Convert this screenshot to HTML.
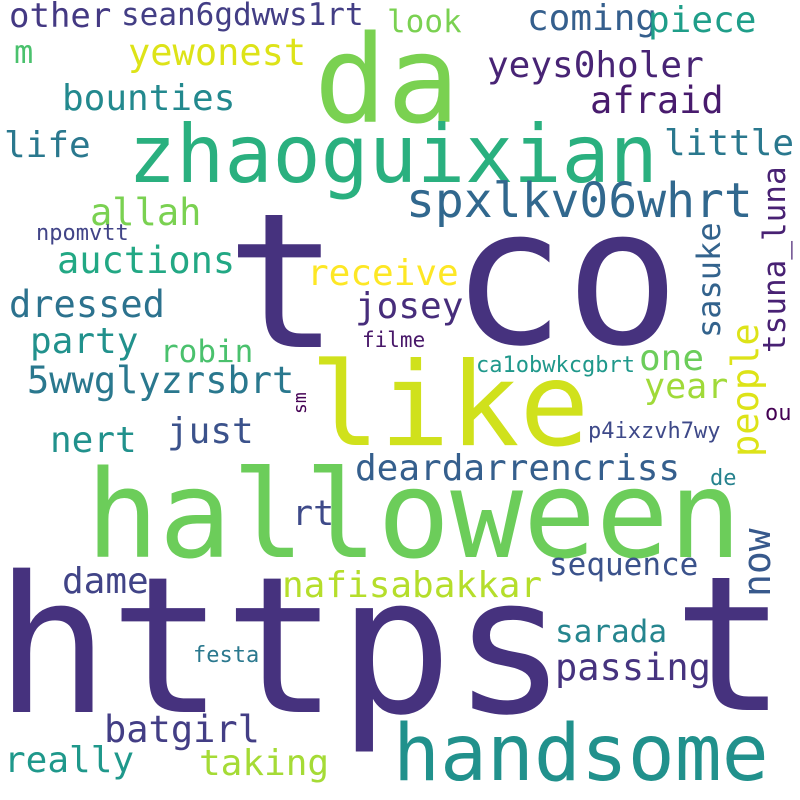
<!DOCTYPE html>
<html><head><meta charset="utf-8"><style>
html,body{margin:0;padding:0;background:#fff;}
svg{display:block;}
text{font-family:"DejaVu Sans Mono","Liberation Mono",monospace;}
</style></head><body>
<svg id="cloud" width="800" height="800" viewBox="0 0 800 800" xmlns="http://www.w3.org/2000/svg">
<rect width="800" height="800" fill="#ffffff"/>
</svg>
<script>
const words = ["https","t","co","t","da","zhaoguixian","like","halloween","handsome","spxlkv06whrt","other","sean6gdwws1rt","look","coming","piece","m","yewonest","yeys0holer","bounties","afraid","life","little","allah","npomvtt","auctions","receive","dressed","josey","party","robin","filme","5wwglyzrsbrt","sm","one","ca1obwkcgbrt","year","people","tsuna_luna","sasuke","now","ou","p4ixzvh7wy","deardarrencriss","de","just","nert","rt","dame","nafisabakkar","sequence","festa","sarada","passing","batgirl","really","taking"];
const sizes = [190,188,190,188,121,80,116,121,78,48,34,31,31,36,36,32,37,36,36,37,36,36,37,22,37,36,37,36,36,31,21,37,18,36,22,35,37,31,32,38,22,22,36,22,36,36,35,36,36,31,22,31,37,37,36,36];
const colors = ["#46327e","#46327e","#46327e","#46327e","#7ad151","#2ab07f","#d0e11c","#6ccd5a","#21918c","#31688e","#443983","#433e85","#7ad151","#355f8d","#1f9e89","#4ac16d","#dde318","#482475","#23898e","#481b6d","#2a788e","#2a788e","#7ad151","#414487","#22a884","#fde725","#2c728e","#472d7b","#21918c","#4ac16d","#481769","#2a788e","#440154","#6ccd5a","#1f988b","#a0da39","#dde318","#482173","#33638d","#38598c","#440154","#3e4989","#355f8d","#26828e","#3b528b","#21918c","#3e4a89","#414487","#b5de2b","#3b528b","#2a788e","#25858e","#46337f","#433e85","#1f988b","#a5db36"];
const xs = [-5,673,451,226,314,128,310,86,393,406,9,121,387,527,648,14,128,487,62,590,4,664,90,36,57,307,9,355,30,160,362,27,306,639,476,644,758,785,720,770,765,588,355,710,167,50,292,62,282,549,193,555,555,104,4,199];
const ys = [712,710,343,347,122,182,445,557,780,217,27,25,32,30,32,63,65,77,110,113,157,155,225,240,273,285,317,318,353,362,347,393,414,370,372,398,457,353,338,597,420,438,480,485,443,452,525,593,597,575,662,642,680,742,772,775];
const vertical = ["sm","people","tsuna_luna","sasuke","now"];
const svg = document.getElementById('cloud');
const NS = "http://www.w3.org/2000/svg";
for (let i = 0; i < words.length; i++) {
  const t = document.createElementNS(NS, 'text');
  t.textContent = words[i];
  t.setAttribute('font-size', sizes[i]);
  t.setAttribute('fill', colors[i]);
  if (vertical.includes(words[i])) {
    t.setAttribute('transform', 'translate(' + xs[i] + ',' + ys[i] + ') rotate(-90)');
  } else {
    t.setAttribute('x', xs[i]);
    t.setAttribute('y', ys[i]);
  }
  
  
  svg.appendChild(t);
}
</script>
</body></html>
